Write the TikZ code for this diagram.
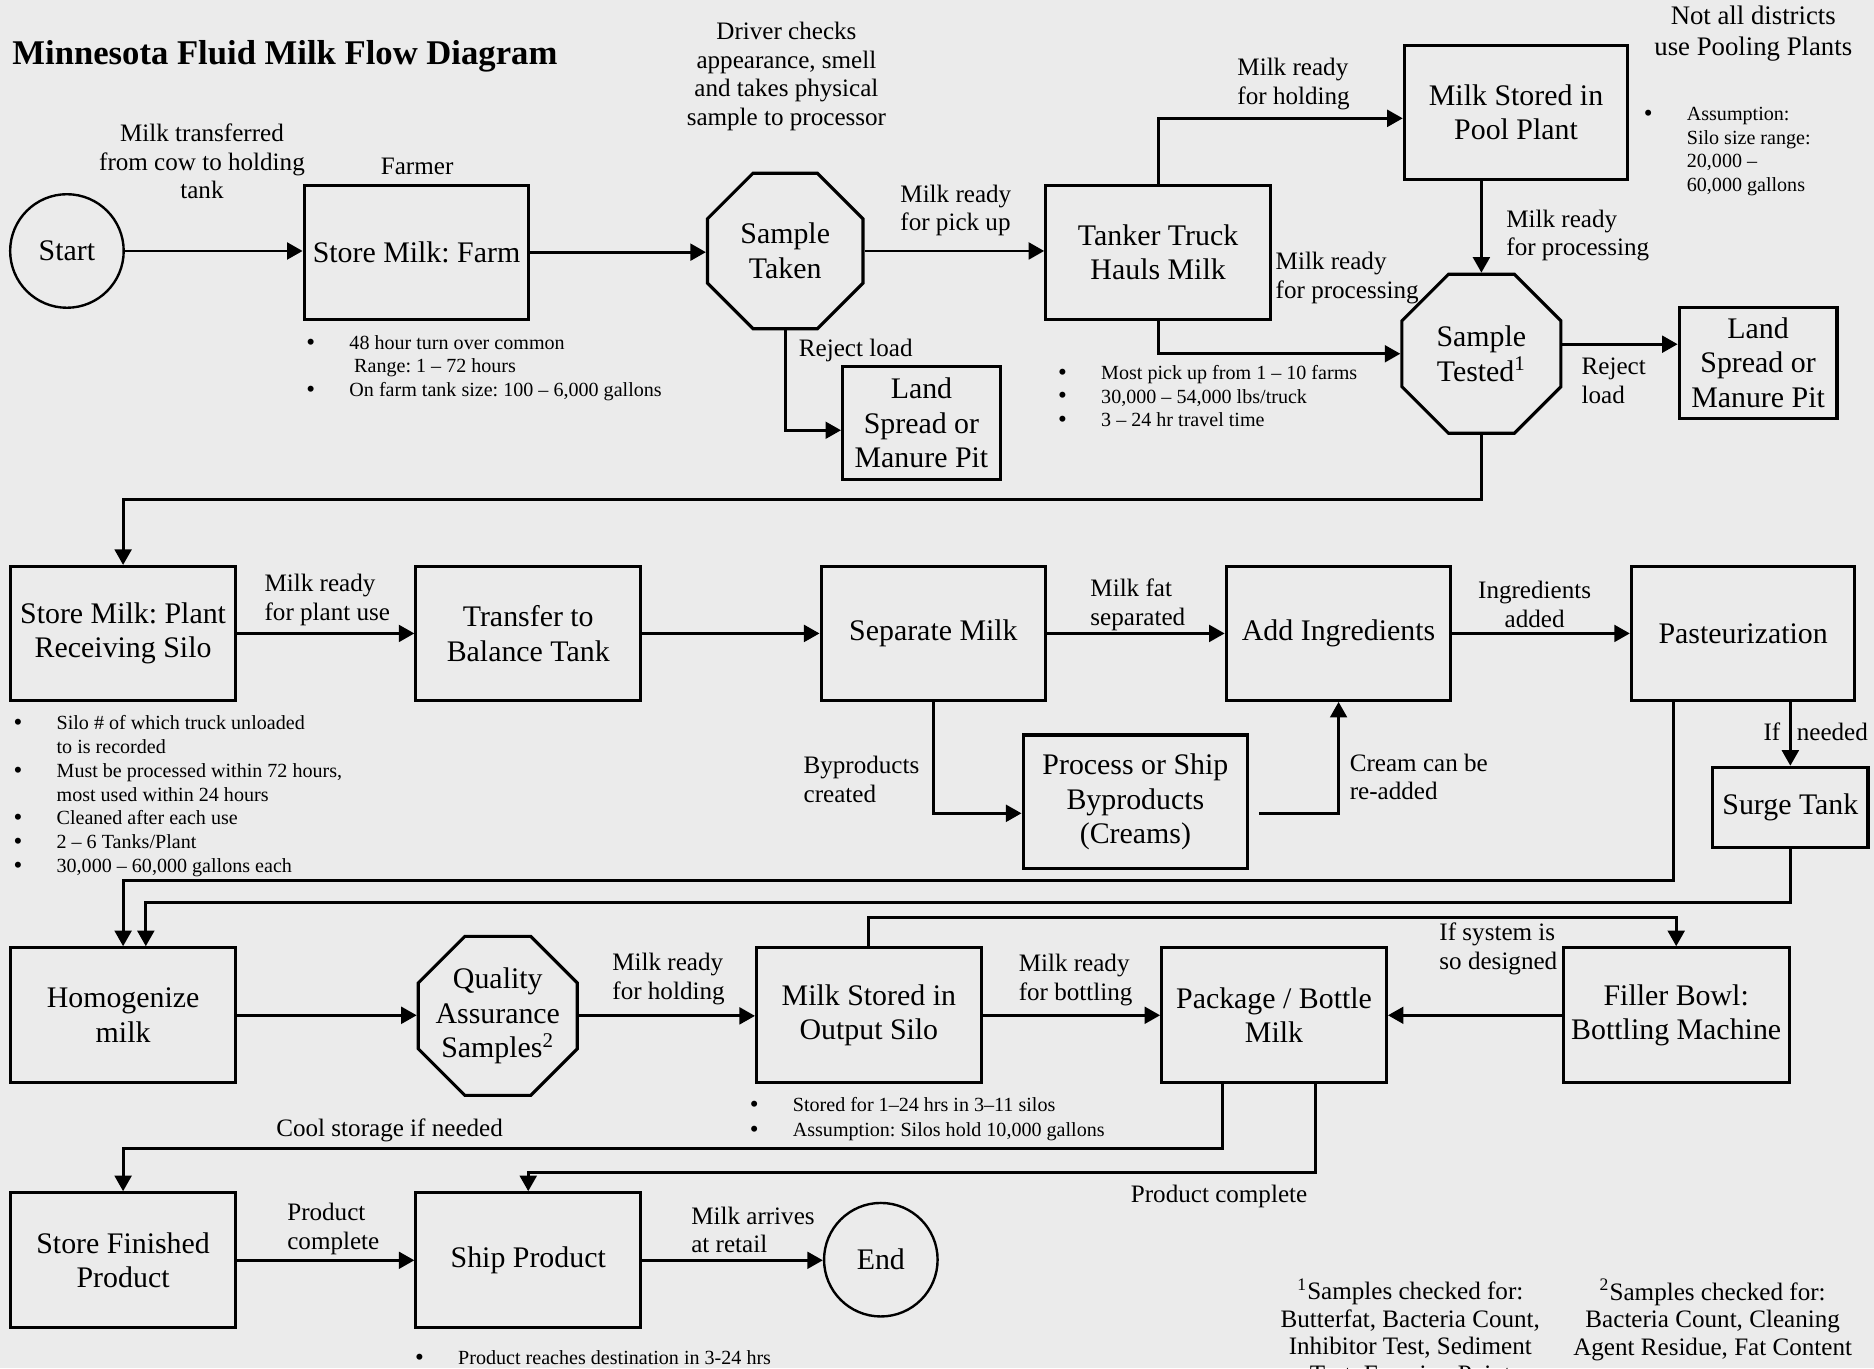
\documentclass[tikz,border=0pt]{standalone}
\usepackage{fontspec}
\setmainfont{Liberation Serif}
\usetikzlibrary{arrows.meta,shapes.geometric,calc}
\definecolor{bgc}{RGB}{235,235,235}
\newcommand\bfnt{\fontsize{12.5}{14.5}\selectfont}
\newcommand\lfnt{\fontsize{10.5}{12}\selectfont}
\newcommand\sfnt{\fontsize{8.4}{10}\selectfont}
\newcommand\mybul{\makebox[18pt][l]{\raisebox{-0.4pt}{\fontsize{10.5}{10}\selectfont\textbullet}}}
\newcommand\myind{\hspace*{18pt}}
\frenchspacing
\begin{document}
\frenchspacing
\begin{tikzpicture}[x=0.5pt,y=-0.5pt,
  box/.style={draw,line width=1.3pt,inner sep=2pt,align=center,font=\bfnt},
  std/.style={box,minimum width=94pt,minimum height=56pt},
  oct/.style={draw,line width=1.3pt,regular polygon,regular polygon sides=8,inner sep=-6pt,align=center,font=\bfnt},
  term/.style={draw,line width=1pt,circle,minimum size=47.5pt,inner sep=0pt,font=\bfnt},
  lbl/.style={font=\lfnt,inner sep=0pt},
  lbll/.style={lbl,align=left,anchor=west},
  lblc/.style={lbl,align=center},
  bul/.style={font=\sfnt,inner sep=0pt,align=left,anchor=north west},
  arr/.style={line width=1.2pt,-{Triangle[length=6.5pt,width=7pt]}}]
\fill[bgc] (0,0) rectangle (1568,1145);
\useasboundingbox (0,0) rectangle (1568,1145);
% helper coordinates
\coordinate (k1) at (0,418);
\coordinate (k2) at (0,737);
\coordinate (k3) at (0,755);
\coordinate (k4) at (0,768);
\coordinate (k5) at (0,961);
\coordinate (k6) at (0,981);
% title
\node[anchor=west,font=\fontsize{14.5}{17}\selectfont\bfseries,inner sep=0pt] (title) at (10,47) {Minnesota Fluid Milk Flow Diagram};
% row 1
\node[term] (start) at (56,210) {Start};
\node[std] (farm) at (348.5,211) {Store Milk: Farm};
\node[oct,minimum size=70.4pt] (taken) at (657,210) {Sample\\Taken};
\node[std] (tanker) at (969,211) {Tanker Truck\\Hauls Milk};
\node[box,minimum width=66pt,minimum height=47pt] (land1) at (771,354) {Land\\Spread or\\Manure Pit};
\node[std,minimum width=93.5pt] (pool) at (1268.5,94) {Milk Stored in\\Pool Plant};
\node[oct,minimum size=72pt] (tested) at (1239.5,296) {Sample\\Tested\textsuperscript{1}};
\node[box,minimum width=66pt,minimum height=46.5pt] (land2) at (1471,303.5) {Land\\Spread or\\Manure Pit};
% row 2
\node[std] (plant) at (103,530) {Store Milk: Plant\\Receiving Silo};
\node[std] (transfer) at (442,530) {Transfer to\\Balance Tank};
\node[std] (separate) at (781,530) {Separate Milk};
\node[std] (addingr) at (1120,530) {Add Ingredients};
\node[std,minimum width=93.5pt] (pasteur) at (1458.5,530) {Pasteurization};
\node[std] (process) at (950,671) {Process or Ship\\Byproducts\\(Creams)};
\node[box,minimum width=65pt,minimum height=33.5pt] (surge) at (1498,675.5) {Surge Tank};
% row 3
\node[std,minimum height=56.5pt] (homog) at (103,849.5) {Homogenize\\milk};
\node[oct,minimum size=72pt] (qa) at (416.5,850) {Quality\\Assurance\\Samples\textsuperscript{2}};
\node[std,minimum height=56.5pt] (outsilo) at (727,849.5) {Milk Stored in\\Output Silo};
\node[std,minimum height=56.5pt] (package) at (1066,849.5) {Package / Bottle\\Milk};
\node[std,minimum width=94.5pt,minimum height=56.5pt] (filler) at (1402.5,849.5) {Filler Bowl:\\Bottling Machine};
% row 4
\node[std,minimum height=56.5pt] (storefin) at (103,1054.5) {Store Finished\\Product};
\node[std,minimum height=56.5pt] (ship) at (442,1054.5) {Ship Product};
\node[term] (end) at (737,1054) {End};
% labels
\node[lblc] (l1) at (169,135) {Milk transferred\\from cow to holding\\tank};
\node[lblc] (l2) at (349,139) {Farmer};
\node[lblc] (l3) at (658,64) {Driver checks\\appearance, smell\\and takes physical\\sample to processor};
\node[lbll] (l4) at (753,176) {Milk ready\\for pick up};
\node[lblc] (l5) at (716,293) {Reject load};
\node[lbll] (l6) at (1035,70) {Milk ready\\for holding};
\node[lblc,font=\fontsize{11.2}{13}\selectfont] (l7) at (1467,28) {Not all districts\\use Pooling Plants};
\node[lbll] (l8) at (1260,197) {Milk ready\\for processing};
\node[lbll] (l9) at (1067,232.5) {Milk ready\\for processing};
\node[lbll] (l10) at (1323,318.5) {Reject\\load};
\node[lbll] (l11) at (221,502) {Milk ready\\for plant use};
\node[lbll] (l12) at (912,506) {Milk fat\\separated};
\node[lblc] (l13) at (1284,505.5) {Ingredients\\added};
\node[lbll] (l14) at (672,652) {Byproducts\\created};
\node[lbll] (l15) at (1129,650) {Cream can be\\re-added};
\node[lbl,anchor=east] (l16) at (1490,612) {If};
\node[lbl,anchor=west] (l17) at (1503,612) {needed};
\node[lbll] (l18) at (512,819) {Milk ready\\for holding};
\node[lbll] (l19) at (852,820) {Milk ready\\for bottling};
\node[lbll] (l20) at (1204,794) {If system is\\so designed};
\node[lblc] (l21) at (326,946) {Cool storage if needed};
\node[lblc] (l22) at (1020,1001) {Product complete};
\node[lbll] (l23) at (240,1028) {Product\\complete};
\node[lbll] (l24) at (578,1029) {Milk arrives\\at retail};
\node[lblc,font=\fontsize{10.5}{11.5}\selectfont] (fn1) at (1180,1115.5) {\textsuperscript{1}Samples checked for:\\Butterfat, Bacteria Count,\\Inhibitor Test, Sediment\\Test, Freezing Point};
\node[lblc,font=\fontsize{10.5}{11.5}\selectfont] (fn2) at (1433,1104.5) {\textsuperscript{2}Samples checked for:\\Bacteria Count, Cleaning\\Agent Residue, Fat Content};
% bullet lists
\node[bul] (b1) at (256,280) {\mybul 48 hour turn over common\\\hspace*{20pt}Range: 1 – 72 hours\\\mybul On farm tank size: 100 – 6,000 gallons};
\node[bul] (b2) at (885,305) {\mybul Most pick up from 1 – 10 farms\\\mybul 30,000 – 54,000 lbs/truck\\\mybul 3 – 24 hr travel time};
\node[bul] (b3) at (1375,89) {\mybul Assumption:\\\myind Silo size range:\\\myind 20,000 –\\\myind 60,000 gallons};
\node[bul] (b4) at (11,598) {\mybul Silo \# of which truck unloaded\\\myind to is recorded\\\mybul Must be processed within 72 hours,\\\myind most used within 24 hours\\\mybul Cleaned after each use\\\mybul 2 – 6 Tanks/Plant\\\mybul 30,000 – 60,000 gallons each};
\node[bul,font=\fontsize{8.4}{10.5}\selectfont] (b5) at (627,918) {\mybul Stored for 1–24 hrs in 3–11 silos\\\mybul Assumption: Silos hold 10,000 gallons};
\node[bul] (b6) at (347,1130) {\mybul Product reaches destination in 3-24 hrs};
% connectors row 1
\draw[arr] (start.east) -- (start.east -| farm.west);
\draw[arr] (farm.east) -- (farm.east -| taken.west);
\draw[arr] (taken.east) -- (taken.east -| tanker.west);
\draw[arr] (taken.south) |- ([yshift=-3pt]land1.west);
\draw[arr] (tanker.north) |- ([yshift=-2.5pt]pool.west);
\draw[arr] (tanker.south) |- (tested.west);
\draw[arr] (tested.north |- pool.south) -- (tested.north);
\draw[arr] ([yshift=4pt]tested.east) -- ([yshift=4pt]tested.east -| land2.west);
\draw[arr] (tested.south) |- (k1 -| plant.north) -- (plant.north);
% connectors row 2
\draw[arr] (plant.east) -- (transfer.west);
\draw[arr] (transfer.east) -- (separate.west);
\draw[arr] (separate.east) -- (addingr.west);
\draw[arr] (addingr.east) -- (pasteur.west);
\draw[arr] (separate.south) |- ([yshift=-4.75pt]process.west);
\draw[arr] ([xshift=4pt,yshift=-4.75pt]process.east) -| (addingr.south);
\draw[arr] (surge.north |- pasteur.south) -- (surge.north);
\draw[arr] ([xshift=-29.25pt]pasteur.south) |- (k2 -| homog.north) -- (homog.north);
\coordinate (h2) at ([xshift=9.5pt]homog.north);
\draw[arr] (surge.south) |- (k3 -| h2) -- (h2);
% connectors row 3
\draw[arr] (homog.east) -- (homog.east -| qa.west);
\draw[arr] (qa.east) -- (qa.east -| outsilo.west);
\draw[arr] (outsilo.east) -- (package.west);
\draw[arr] (filler.west) -- (package.east);
\draw[arr] (outsilo.north) |- (k4 -| filler.north) -- (filler.north);
\draw[arr] ([xshift=-21.5pt]package.south) |- (k5 -| storefin.north) -- (storefin.north);
\draw[arr] ([xshift=17.5pt]package.south) |- (k6 -| ship.north) -- (ship.north);
% connectors row 4
\draw[arr] (storefin.east) -- (ship.west);
\draw[arr] (ship.east) -- (ship.east -| end.west);
\end{tikzpicture}
\end{document}
